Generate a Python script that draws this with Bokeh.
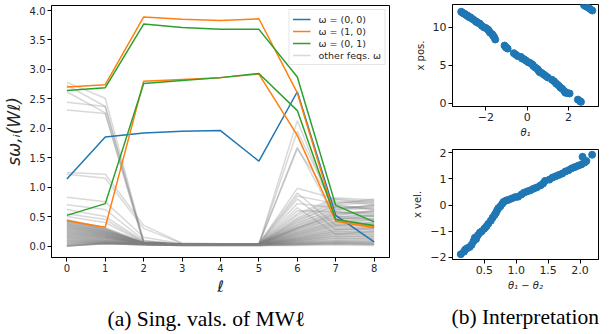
from bokeh.plotting import figure
from bokeh.models import Legend, LegendItem, Range1d, FixedTicker, NumeralTickFormatter, Title
from bokeh.layouts import row, column
from bokeh.embed import file_html
from bokeh.resources import INLINE

# ---------------- data ----------------
layers = [0, 1, 2, 3, 4, 5, 6, 7, 8]

blue_00 = [1.14, 1.85, 1.92, 1.95, 1.96, 1.44, 2.62, 0.52, 0.07]
orange_10_a = [2.70, 2.74, 3.89, 3.85, 3.83, 3.86, 2.60, 0.45, 0.33]
orange_10_b = [0.43, 0.32, 2.80, 2.83, 2.86, 2.92, 1.88, 0.42, 0.31]
green_01_a = [2.64, 2.69, 3.77, 3.71, 3.68, 3.68, 2.87, 0.69, 0.41]
green_01_b = [0.52, 0.72, 2.76, 2.81, 2.86, 2.93, 2.30, 0.45, 0.35]

other_freqs = [
    [2.78, 2.51, 0.08, 0.03, 0.03, 0.03, 0.30, 0.55, 0.60],
    [2.73, 2.37, 0.06, 0.03, 0.03, 0.03, 2.13, 0.50, 0.45],
    [2.62, 2.26, 0.05, 0.03, 0.03, 0.03, 1.95, 0.62, 0.70],
    [2.44, 2.37, 0.07, 0.03, 0.03, 0.03, 1.68, 0.45, 0.52],
    [2.31, 2.25, 0.05, 0.03, 0.03, 0.03, 1.65, 0.70, 0.62],
    [1.25, 1.22, 0.35, 0.05, 0.04, 0.04, 0.98, 0.80, 0.75],
    [1.22, 1.15, 0.30, 0.04, 0.04, 0.04, 0.90, 0.35, 0.40],
    [0.83, 0.75, 0.15, 0.04, 0.04, 0.04, 0.85, 0.72, 0.80],
    [0.70, 0.62, 0.10, 0.03, 0.03, 0.03, 0.80, 0.28, 0.30],
    [0.62, 0.50, 0.08, 0.03, 0.03, 0.03, 0.72, 0.65, 0.68],
    [0.55, 0.45, 0.07, 0.03, 0.03, 0.03, 0.65, 0.20, 0.25],
    [0.50, 0.40, 0.06, 0.03, 0.03, 0.03, 0.60, 0.58, 0.50],
    [0.45, 0.30, 0.06, 0.03, 0.03, 0.03, 0.55, 0.82, 0.78],
    [0.44, 0.28, 0.05, 0.03, 0.03, 0.03, 0.48, 0.76, 0.70],
    [0.42, 0.27, 0.05, 0.03, 0.03, 0.03, 0.42, 0.70, 0.74],
    [0.40, 0.26, 0.05, 0.03, 0.03, 0.03, 0.38, 0.66, 0.62],
    [0.39, 0.25, 0.05, 0.03, 0.03, 0.03, 0.36, 0.60, 0.66],
    [0.37, 0.24, 0.05, 0.03, 0.03, 0.03, 0.33, 0.57, 0.58],
    [0.35, 0.23, 0.05, 0.03, 0.03, 0.03, 0.31, 0.52, 0.60],
    [0.34, 0.22, 0.05, 0.03, 0.03, 0.03, 0.29, 0.49, 0.54],
    [0.32, 0.21, 0.04, 0.03, 0.03, 0.03, 0.27, 0.46, 0.50],
    [0.30, 0.20, 0.04, 0.03, 0.03, 0.03, 0.25, 0.43, 0.47],
    [0.29, 0.19, 0.04, 0.03, 0.03, 0.03, 0.23, 0.40, 0.44],
    [0.27, 0.18, 0.04, 0.03, 0.03, 0.03, 0.21, 0.37, 0.40],
    [0.25, 0.17, 0.04, 0.02, 0.02, 0.02, 0.19, 0.34, 0.37],
    [0.24, 0.16, 0.04, 0.02, 0.02, 0.02, 0.17, 0.31, 0.34],
    [0.22, 0.15, 0.04, 0.02, 0.02, 0.02, 0.16, 0.28, 0.31],
    [0.20, 0.14, 0.04, 0.02, 0.02, 0.02, 0.14, 0.26, 0.28],
    [0.19, 0.13, 0.04, 0.02, 0.02, 0.02, 0.13, 0.24, 0.25],
    [0.17, 0.12, 0.03, 0.02, 0.02, 0.02, 0.12, 0.22, 0.22],
    [0.16, 0.11, 0.03, 0.02, 0.02, 0.02, 0.11, 0.20, 0.20],
    [0.15, 0.10, 0.03, 0.02, 0.02, 0.02, 0.10, 0.18, 0.17],
    [0.13, 0.09, 0.03, 0.02, 0.02, 0.02, 0.09, 0.16, 0.15],
    [0.12, 0.08, 0.03, 0.02, 0.02, 0.02, 0.08, 0.14, 0.13],
    [0.10, 0.07, 0.03, 0.02, 0.02, 0.02, 0.07, 0.12, 0.11],
    [0.08, 0.06, 0.03, 0.02, 0.02, 0.02, 0.06, 0.10, 0.09],
    [0.07, 0.06, 0.03, 0.02, 0.02, 0.02, 0.05, 0.08, 0.07],
    [0.05, 0.05, 0.02, 0.02, 0.02, 0.02, 0.04, 0.06, 0.05],
    [0.04, 0.05, 0.02, 0.01, 0.01, 0.01, 0.03, 0.05, 0.04],
    [0.02, 0.04, 0.02, 0.01, 0.01, 0.01, 0.02, 0.04, 0.03],
    [0.01, 0.04, 0.02, 0.01, 0.01, 0.01, 0.02, 0.03, 0.02],
    [0.00, 0.04, 0.02, 0.01, 0.01, 0.01, 0.01, 0.02, 0.01],
    [0.44, 0.31, 0.06, 0.04, 0.03, 0.03, 0.52, 0.79, 0.72],
    [0.43, 0.29, 0.05, 0.03, 0.03, 0.03, 0.46, 0.73, 0.77],
    [0.41, 0.28, 0.05, 0.03, 0.03, 0.03, 0.44, 0.68, 0.64],
    [0.38, 0.25, 0.05, 0.03, 0.03, 0.03, 0.40, 0.62, 0.69],
    [0.36, 0.24, 0.05, 0.03, 0.03, 0.03, 0.35, 0.58, 0.55],
    [0.33, 0.22, 0.05, 0.03, 0.03, 0.03, 0.32, 0.54, 0.57],
    [0.31, 0.21, 0.04, 0.03, 0.03, 0.03, 0.30, 0.50, 0.52],
    [0.28, 0.19, 0.04, 0.03, 0.03, 0.03, 0.27, 0.47, 0.45],
    [0.26, 0.18, 0.04, 0.03, 0.03, 0.03, 0.24, 0.42, 0.43],
    [0.23, 0.16, 0.04, 0.02, 0.02, 0.02, 0.22, 0.39, 0.38],
    [0.21, 0.15, 0.04, 0.02, 0.02, 0.02, 0.20, 0.36, 0.35],
    [0.18, 0.13, 0.04, 0.02, 0.02, 0.02, 0.18, 0.33, 0.30],
    [0.14, 0.11, 0.03, 0.02, 0.02, 0.02, 0.15, 0.29, 0.27],
    [0.11, 0.09, 0.03, 0.02, 0.02, 0.02, 0.13, 0.25, 0.23],
    [0.09, 0.08, 0.03, 0.02, 0.02, 0.02, 0.11, 0.21, 0.19],
    [0.06, 0.07, 0.03, 0.02, 0.02, 0.02, 0.09, 0.17, 0.16],
    [0.03, 0.06, 0.03, 0.02, 0.02, 0.02, 0.07, 0.13, 0.12],
    [0.00, 0.05, 0.03, 0.02, 0.02, 0.02, 0.05, 0.09, 0.08],
    [0.00, 0.05, 0.03, 0.02, 0.02, 0.02, 0.04, 0.07, 0.06],
    [0.00, 0.04, 0.02, 0.02, 0.02, 0.02, 0.03, 0.05, 0.04],
]

theta1 = [-3.20, -3.15, -3.10, -3.05, -3.00, -2.95, -2.90, -2.85, -2.80, -2.75,
          -2.70, -2.60, -2.50, -2.45, -2.40, -2.30, -2.20, -2.10, -2.00, -1.90,
          -1.85, -1.80, -1.70, -1.65, -1.60, -1.55, -1.10, -1.05, -1.00, -0.95,
          -0.65, -0.55, -0.45, -0.30, -0.25, -0.15, -0.05, 0.05, 0.15, 0.25,
          0.30, 0.40, 0.50, 0.55, 0.60, 0.70, 0.80, 0.90, 1.00, 1.20,
          1.30, 1.40, 1.50, 1.60, 1.70, 1.80, 1.85, 1.95, 2.05, 2.45,
          2.55, 2.60, 2.75, 2.85, 2.95, 3.05, 3.15]
x_pos = [12.05, 11.95, 11.85, 11.80, 11.70, 11.60, 11.55, 11.40, 11.35, 11.30,
         11.20, 11.00, 10.80, 10.70, 10.60, 10.50, 10.20, 10.00, 9.90, 9.70,
         9.50, 9.30, 9.10, 8.90, 8.70, 8.40, 7.60, 7.40, 7.30, 7.20,
         6.60, 6.40, 6.20, 6.10, 5.90, 5.80, 5.60, 5.40, 5.30, 5.10,
         4.90, 4.70, 4.50, 4.30, 4.10, 4.00, 3.80, 3.60, 3.40, 3.10,
         2.90, 2.60, 2.40, 2.10, 1.90, 1.60, 1.40, 1.35, 1.30, 0.50,
         0.30, 0.20, 12.90, 12.75, 12.60, 12.40, 12.20]

theta_diff = [0.13, 0.18, 0.20, 0.23, 0.27, 0.30, 0.33, 0.35, 0.37, 0.40,
              0.43, 0.46, 0.50, 0.53, 0.56, 0.60, 0.63, 0.66, 0.68, 0.70,
              0.72, 0.75, 0.78, 0.80, 0.84, 0.88, 0.93, 0.98, 1.03, 1.08,
              1.12, 1.17, 1.22, 1.27, 1.32, 1.38, 1.42, 1.45, 1.52, 1.57,
              1.62, 1.67, 1.72, 1.77, 1.82, 1.87, 1.92, 1.97, 2.02, 2.07,
              2.10, 2.04, 2.19]
x_vel = [-1.88, -1.78, -1.70, -1.65, -1.60, -1.52, -1.38, -1.25, -1.30, -1.15,
         -1.05, -1.00, -0.90, -0.82, -0.72, -0.60, -0.48, -0.38, -0.30, -0.20,
         -0.12, -0.05, 0.05, 0.12, 0.17, 0.20, 0.25, 0.30, 0.32, 0.40,
         0.47, 0.52, 0.56, 0.62, 0.67, 0.75, 0.82, 0.92, 0.97, 1.05,
         1.10, 1.15, 1.20, 1.28, 1.33, 1.40, 1.45, 1.50, 1.55, 1.62,
         1.68, 1.84, 1.92]

# ---------------- style helpers ----------------
FONT = "DejaVu Sans"
SERIF = "Liberation Serif"
TXT = "#262626"


def style_axes(p, size):
    p.outline_line_color = "black"
    p.outline_line_width = 1
    p.xgrid.visible = False
    p.ygrid.visible = False
    p.background_fill_color = "white"
    p.border_fill_color = "white"
    for ax in list(p.xaxis) + list(p.yaxis):
        ax.axis_line_color = "black"
        ax.major_tick_in = 0
        ax.major_tick_out = 4
        ax.minor_tick_line_color = None
        ax.major_tick_line_color = "black"
        ax.major_label_text_font = FONT
        ax.major_label_text_font_size = size
        ax.major_label_text_color = TXT
        ax.major_label_standoff = 2
        ax.axis_label_text_font = FONT
        ax.axis_label_text_font_style = "normal"
        ax.axis_label_text_color = TXT


def caption(p, text, offset, standoff):
    t = Title(text=text, align="left", offset=offset, text_font=SERIF,
              text_font_size="21.5px", text_font_style="normal", text_color="black",
              standoff=standoff)
    p.add_layout(t, "below")


# ---------------- left: singular values ----------------
p1 = figure(width=402, height=344, x_range=Range1d(-0.4, 8.4), y_range=Range1d(-0.195, 4.085),
            output_backend="svg", toolbar_location=None,
            min_border_left=44, min_border_right=13, min_border_top=5, min_border_bottom=87)
style_axes(p1, "10px")

r_other = p1.multi_line(xs=[layers] * len(other_freqs), ys=other_freqs,
                        line_color="gray", line_alpha=0.3, line_width=1.5)
r_b = p1.line(layers, blue_00, line_color="#1f77b4", line_width=1.5)
r_o1 = p1.line(layers, orange_10_a, line_color="#ff7f0e", line_width=1.5)
r_o2 = p1.line(layers, orange_10_b, line_color="#ff7f0e", line_width=1.5)
r_g1 = p1.line(layers, green_01_a, line_color="#2ca02c", line_width=1.5)
r_g2 = p1.line(layers, green_01_b, line_color="#2ca02c", line_width=1.5)

p1.xaxis.ticker = FixedTicker(ticks=layers)
p1.yaxis.ticker = FixedTicker(ticks=[0, 0.5, 1, 1.5, 2, 2.5, 3, 3.5, 4])
p1.yaxis.formatter = NumeralTickFormatter(format="0.0")
p1.xaxis.axis_label = "ℓ"
p1.xaxis.axis_label_text_font_style = "italic"
p1.xaxis.axis_label_text_font_size = "16px"
p1.xaxis.axis_label_standoff = 2
p1.yaxis.axis_label = "sω,ᵢ(Wℓ)"
p1.yaxis.axis_label_text_font_style = "italic"
p1.yaxis.axis_label_text_font_size = "17px"
p1.yaxis.axis_label_standoff = 3

legend = Legend(items=[
    LegendItem(label="ω = (0, 0)", renderers=[r_b]),
    LegendItem(label="ω = (1, 0)", renderers=[r_o1]),
    LegendItem(label="ω = (0, 1)", renderers=[r_g1]),
    LegendItem(label="other feqs. ω", renderers=[r_other]),
], location="top_right")
legend.margin = 4
legend.padding = 3
legend.spacing = 0
legend.glyph_width = 18
legend.glyph_height = 12
legend.label_height = 12
legend.label_standoff = 8
legend.label_text_font = FONT
legend.label_text_font_size = "9.5px"
legend.label_text_color = TXT
legend.border_line_color = "#cccccc"
legend.background_fill_alpha = 0.8
p1.add_layout(legend)

caption(p1, "(a) Sing. vals. of MWℓ", 56, 12)

# ---------------- right top: x pos vs theta1 ----------------
p2 = figure(width=197, height=141, x_range=Range1d(-3.62, 3.45), y_range=Range1d(-0.41, 13.0),
            output_backend="svg", toolbar_location=None,
            min_border_left=50, min_border_right=1, min_border_top=4, min_border_bottom=35)
style_axes(p2, "11px")
p2.scatter(theta1, x_pos, size=7, fill_color="#1f77b4", line_color="#1f77b4")
p2.xaxis.ticker = FixedTicker(ticks=[-2, 0, 2])
p2.xaxis.major_label_overrides = {-2: "−2", 0: "0", 2: "2"}
p2.yaxis.ticker = FixedTicker(ticks=[0, 5, 10])
p2.xaxis.axis_label = "θ₁"
p2.xaxis.axis_label_text_font_style = "italic"
p2.xaxis.axis_label_text_font_size = "10px"
p2.xaxis.axis_label_standoff = 3
p2.yaxis.axis_label = "x pos."
p2.yaxis.axis_label_text_font_size = "10px"
p2.yaxis.axis_label_standoff = 4

# ---------------- right bottom: x vel vs theta1 - theta2 ----------------
p3 = figure(width=197, height=206, x_range=Range1d(0.0, 2.29), y_range=Range1d(-2.08, 2.12),
            output_backend="svg", toolbar_location=None,
            min_border_left=50, min_border_right=1, min_border_top=8, min_border_bottom=88)
style_axes(p3, "11px")
p3.scatter(theta_diff, x_vel, size=7, fill_color="#1f77b4", line_color="#1f77b4")
p3.xaxis.ticker = FixedTicker(ticks=[0.5, 1.0, 1.5, 2.0])
p3.xaxis.formatter = NumeralTickFormatter(format="0.0")
p3.yaxis.ticker = FixedTicker(ticks=[-2, -1, 0, 1, 2])
p3.yaxis.major_label_overrides = {-2: "−2", -1: "−1", 0: "0", 1: "1", 2: "2"}
p3.xaxis.axis_label = "θ₁ − θ₂"
p3.xaxis.axis_label_text_font_style = "italic"
p3.xaxis.axis_label_text_font_size = "10px"
p3.xaxis.axis_label_standoff = 3
p3.yaxis.axis_label = "x vel."
p3.yaxis.axis_label_text_font_size = "10px"
p3.yaxis.axis_label_standoff = 4

caption(p3, "(b) Interpretation", -1, 18)

layout = row(p1, column(p2, p3, spacing=0), spacing=0)
open("out.html", "w").write(file_html(layout, INLINE))
